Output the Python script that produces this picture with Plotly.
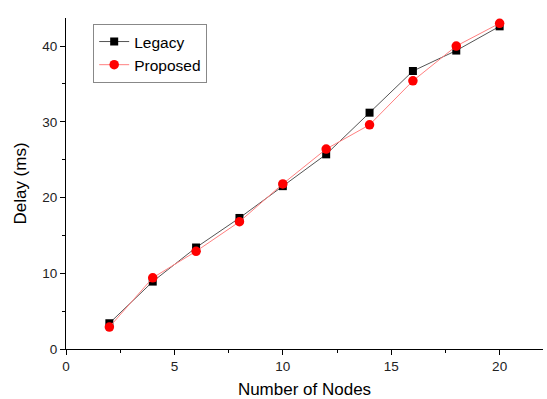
import plotly.graph_objects as go

nodes = [2, 4, 6, 8, 10, 12, 14, 16, 18, 20]
legacy = [3.4, 8.9, 13.4, 17.3, 21.5, 25.7, 31.2, 36.7, 39.4, 42.6]
proposed = [2.9, 9.4, 12.9, 16.8, 21.8, 26.4, 29.6, 35.4, 40.0, 43.0]

fig = go.Figure()
fig.add_trace(go.Scatter(
    x=nodes, y=legacy, name="Legacy", mode="lines+markers",
    line=dict(color="#555555", width=1),
    marker=dict(symbol="square", size=8, color="black"),
))
fig.add_trace(go.Scatter(
    x=nodes, y=proposed, name="Proposed", mode="lines+markers",
    line=dict(color="#ff8080", width=1),
    marker=dict(symbol="circle", size=9.5, color="red"),
))

axis_common = dict(
    showline=True, linecolor="black", linewidth=1,
    showgrid=False, zeroline=False, automargin=False,
    ticks="outside", ticklen=5, tickcolor="black", tickwidth=1,
    tickfont=dict(family="Arial", size=13.5, color="#222"),
    minor=dict(ticks="outside", ticklen=3, tickcolor="black"),
)

fig.update_layout(
    width=547, height=399,
    margin=dict(l=66, r=4, t=18, b=50),
    plot_bgcolor="white", paper_bgcolor="white",
    font=dict(family="Arial", color="black"),
    xaxis=dict(range=[0, 22], dtick=5, tick0=0,
               title=dict(text="Number of Nodes", font=dict(size=17), standoff=15),
               **axis_common),
    yaxis=dict(range=[0, 43.7], dtick=10, tick0=0,
               title=dict(text="Delay (ms)", font=dict(size=17), standoff=11),
               **axis_common),
    legend=dict(x=0.057, y=0.982, xanchor="left", yanchor="top",
                bordercolor="#888", borderwidth=1, bgcolor="white",
                font=dict(size=15.5, family="Arial"),
                tracegroupgap=0),
    showlegend=True,
)
fig.update_xaxes(minor=dict(dtick=2.5))
fig.update_yaxes(minor=dict(dtick=5))

fig.write_html("out.html")
